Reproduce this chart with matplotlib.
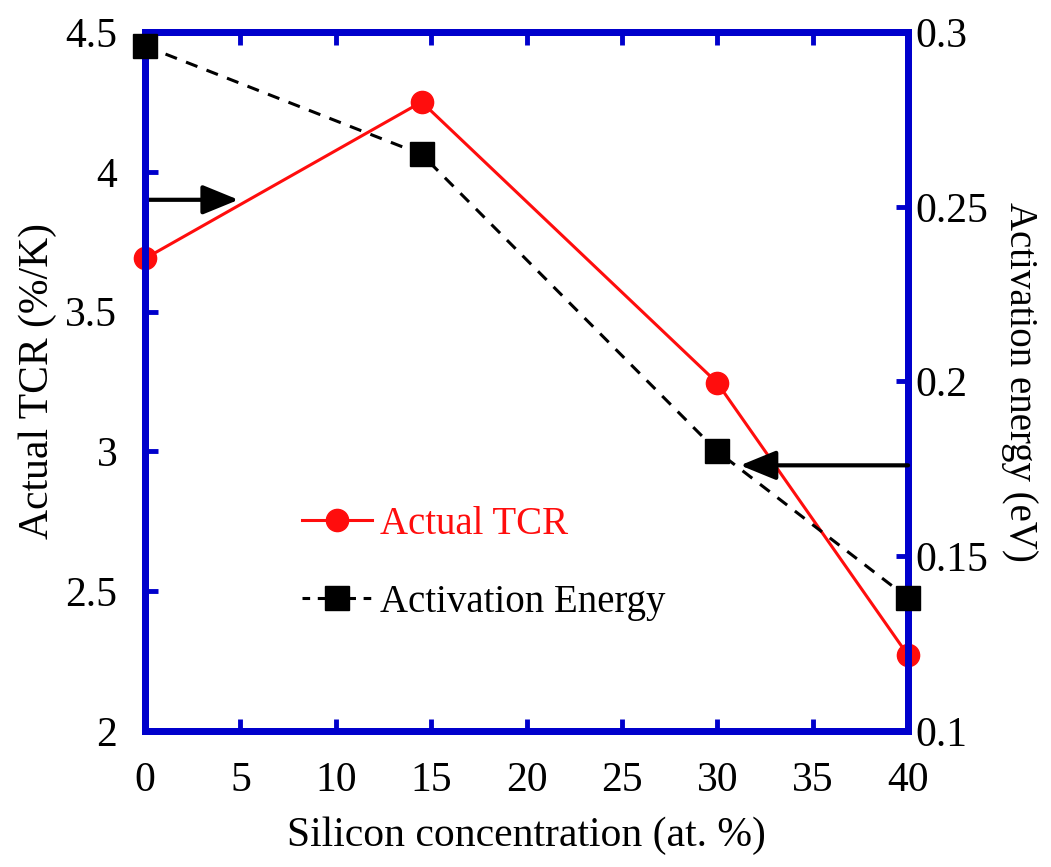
import matplotlib.pyplot as plt
from matplotlib.lines import Line2D

# ------------------------------------------------------------
# Data
# ------------------------------------------------------------
si_conc = [0, 14.5, 30, 40]
tcr = [3.69, 4.25, 3.245, 2.27]            # %/K
act_energy = [0.296, 0.265, 0.180, 0.138]   # eV

BLUE = "#0000cc"
RED = "#ff0d0d"

plt.rcParams["font.family"] = ["Liberation Serif", "DejaVu Serif"]

fig = plt.figure(figsize=(10.51, 8.67), dpi=100)
ax = fig.add_axes([0.138, 0.157, 0.726, 0.806])
ax2 = ax.twinx()

# TCR on left axis
ax.plot(si_conc, tcr, color=RED, lw=2.2, marker="o", ms=16, mec=RED, mfc=RED,
        clip_on=False, zorder=3)
# activation energy on right axis
ax2.plot(si_conc, act_energy, color="black", lw=2.2, ls=(0, (4, 3.2)),
         marker="s", ms=17, mec="black", mfc="black", clip_on=False, zorder=3)

ax.set_xlim(0, 40)
ax.set_ylim(2, 4.5)
ax2.set_ylim(0.1, 0.3)
ax.set_xticks(range(0, 41, 5))
ax.set_yticks([2, 2.5, 3, 3.5, 4, 4.5])
ax.set_yticklabels(["2", "2.5", "3", "3.5", "4", "4.5"])
ax2.set_yticks([0.1, 0.15, 0.2, 0.25, 0.3])
ax2.set_yticklabels(["0.1", "0.15", "0.2", "0.25", "0.3"])

for a in (ax, ax2):
    for s in a.spines.values():
        s.set_color(BLUE)
        s.set_linewidth(5)
    a.tick_params(direction="in", length=9, width=3.5, color=BLUE,
                  labelsize=30)
ax.tick_params(axis="x", top=True, pad=22)
ax.tick_params(axis="y", right=False, pad=20)
ax2.tick_params(axis="y", pad=5)

ax.set_xlabel("Silicon concentration (at. %)", fontsize=30, labelpad=12)
ax.set_ylabel("Actual TCR (%/K)", fontsize=30, labelpad=6)
ax2.set_ylabel("Activation energy (eV)", fontsize=28, rotation=270, labelpad=36)

# arrows pointing to each series' axis
arrow_style = "-|>,head_length=2.2,head_width=0.9"
ax.annotate("", xy=(4.9, 3.9), xytext=(0, 3.9),
            arrowprops=dict(arrowstyle=arrow_style, color="black", lw=3,
                            shrinkA=0, shrinkB=0))
ax2.annotate("", xy=(31.2, 0.176), xytext=(40, 0.176),
             arrowprops=dict(arrowstyle=arrow_style, color="black", lw=3,
                             shrinkA=0, shrinkB=0))

handles = [
    Line2D([], [], color=RED, lw=2.2, marker="o", ms=16, mfc=RED, mec=RED),
    Line2D([], [], color="black", lw=2.2, ls=(0, (2.5, 2.5)), marker="s",
           ms=17, mfc="black", mec="black"),
]
leg = ax.legend(handles, ["Actual TCR", "Activation Energy"], frameon=False,
                fontsize=28, loc="upper left", bbox_to_anchor=(0.16, 0.372),
                handlelength=1.8, handletextpad=0.2, labelspacing=1.05)
leg.get_texts()[0].set_color(RED)

fig.savefig("out.png", dpi=100)
